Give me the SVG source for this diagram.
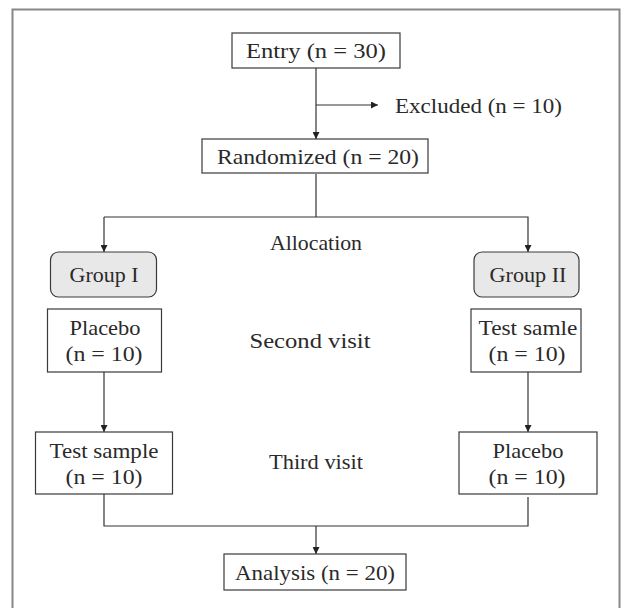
<svg xmlns="http://www.w3.org/2000/svg" width="624" height="608" viewBox="0 0 624 608">
<style>
.box{fill:#fff;stroke:#3a3a3a;stroke-width:1.2}
.grp{fill:#e8e8e8;stroke:#3a3a3a;stroke-width:1.2}
.ln{fill:none;stroke:#333;stroke-width:1.2}
text{font-family:"Liberation Serif","Times New Roman",serif;font-size:21.5px;fill:#2a2a2a;text-anchor:middle}
</style>
<defs>
<marker id="ah" viewBox="0 0 10 10" refX="10" refY="5" markerWidth="7" markerHeight="7" markerUnits="userSpaceOnUse" orient="auto">
<path d="M0,0 L10,5 L0,10 z" fill="#222"/>
</marker>
</defs>
<rect x="12.5" y="9.5" width="607" height="610" fill="#fff" stroke="#888" stroke-width="2"/>
<g id="connectors">
<line class="ln" x1="316" y1="68" x2="316" y2="139" marker-end="url(#ah)"/>
<line class="ln" x1="316" y1="105" x2="378" y2="105" marker-end="url(#ah)"/>
<polyline class="ln" points="316,174 316,217"/>
<polyline class="ln" points="104,217 528,217 528,252" marker-end="url(#ah)"/>
<line class="ln" x1="104" y1="217" x2="104" y2="252" marker-end="url(#ah)"/>
<line class="ln" x1="104" y1="372" x2="104" y2="432" marker-end="url(#ah)"/>
<line class="ln" x1="528" y1="372" x2="528" y2="432" marker-end="url(#ah)"/>
<polyline class="ln" points="104,494 104,526 528,526 528,497"/>
<line class="ln" x1="316" y1="526" x2="316" y2="554" marker-end="url(#ah)"/>
</g>
<g id="entry"><rect class="box" x="232" y="33" width="168" height="35"/><text x="316" y="58" textLength="140" lengthAdjust="spacingAndGlyphs">Entry (n = 30)</text></g>
<g id="excluded"><text x="395" y="113" style="text-anchor:start" textLength="167" lengthAdjust="spacingAndGlyphs">Excluded (n = 10)</text></g>
<g id="randomized"><rect class="box" x="202" y="139" width="226" height="34"/><text x="318" y="164" textLength="202" lengthAdjust="spacingAndGlyphs">Randomized (n = 20)</text></g>
<g id="allocation"><text x="316" y="250" textLength="92" lengthAdjust="spacingAndGlyphs">Allocation</text></g>
<g id="group1"><rect class="grp" x="50.5" y="252" width="106" height="45" rx="8"/><text x="104" y="282" textLength="69" lengthAdjust="spacingAndGlyphs">Group I</text></g>
<g id="group2"><rect class="grp" x="474" y="252" width="105" height="45" rx="8"/><text x="528" y="282" textLength="77" lengthAdjust="spacingAndGlyphs">Group II</text></g>
<g id="placebo1"><rect class="box" x="47.5" y="309" width="114" height="63"/><text x="105" y="335" textLength="71" lengthAdjust="spacingAndGlyphs">Placebo</text><text x="104" y="361" textLength="77" lengthAdjust="spacingAndGlyphs">(n = 10)</text></g>
<g id="second"><text x="310" y="348" textLength="121" lengthAdjust="spacingAndGlyphs">Second visit</text></g>
<g id="test2"><rect class="box" x="471" y="309" width="110" height="63"/><text x="528" y="335" textLength="99" lengthAdjust="spacingAndGlyphs">Test samle</text><text x="527" y="361" textLength="77" lengthAdjust="spacingAndGlyphs">(n = 10)</text></g>
<g id="test1"><rect class="box" x="35.5" y="432" width="137" height="62"/><text x="104" y="458" textLength="109" lengthAdjust="spacingAndGlyphs">Test sample</text><text x="104" y="484" textLength="77" lengthAdjust="spacingAndGlyphs">(n = 10)</text></g>
<g id="third"><text x="316" y="469" textLength="94" lengthAdjust="spacingAndGlyphs">Third visit</text></g>
<g id="placebo2"><rect class="box" x="459" y="432" width="138" height="62"/><text x="528" y="458" textLength="71" lengthAdjust="spacingAndGlyphs">Placebo</text><text x="527" y="484" textLength="77" lengthAdjust="spacingAndGlyphs">(n = 10)</text></g>
<g id="analysis"><rect class="box" x="224" y="554" width="182" height="36"/><text x="315" y="580" textLength="160" lengthAdjust="spacingAndGlyphs">Analysis (n = 20)</text></g>
</svg>
